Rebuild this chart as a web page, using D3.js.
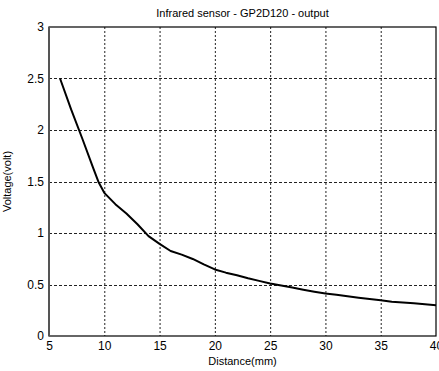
<!DOCTYPE html>
<html>
<head>
<meta charset="utf-8">
<script src="https://cdn.jsdelivr.net/npm/d3@7"></script>
<style>
  body { margin: 0; background: #fff; }
  svg text { font-family: "Liberation Sans", Arial, sans-serif; fill: #000; }
</style>
</head>
<body>
<div id="chart"></div>
<script>
const title = "Infrared sensor - GP2D120 - output";
const xLabel = "Distance(mm)";
const yLabel = "Voltage(volt)";

const distance = [6, 7, 8, 9, 9.5, 10, 11, 12, 13, 14, 15, 16, 17, 18, 19, 20, 21, 22, 23,
  24, 25, 26, 27, 28, 29, 30, 31, 32, 33, 34, 35, 36, 37, 38, 39, 40];
const voltage = [2.50, 2.2, 1.92, 1.63, 1.49, 1.39, 1.28, 1.19, 1.085, 0.97, 0.895, 0.825, 0.79,
  0.748, 0.695, 0.646, 0.615, 0.59, 0.56, 0.535, 0.51, 0.49, 0.47, 0.45, 0.43, 0.412,
  0.40, 0.385, 0.372, 0.36, 0.347, 0.332, 0.325, 0.317, 0.308, 0.298];

const xTicks = [5, 10, 15, 20, 25, 30, 35, 40];
const yTicks = [0, 0.5, 1, 1.5, 2, 2.5, 3];

const width = 439, height = 371;
const margin = { top: 27, right: 3, bottom: 35, left: 49 };

const svg = d3.select("#chart").append("svg")
  .attr("width", width).attr("height", height);

const x = d3.scaleLinear().domain([5, 40]).range([margin.left, width - margin.right]);
const y = d3.scaleLinear().domain([0, 3]).range([height - margin.bottom, margin.top]);

// dotted grid
const grid = svg.append("g").attr("class", "grid");
grid.selectAll(".gx")
  .data(xTicks.slice(1, -1))
  .join("line")
  .attr("x1", d => x(d) + 0.5).attr("x2", d => x(d) + 0.5)
  .attr("y1", y(3)).attr("y2", y(0))
  .attr("stroke", "#222").attr("stroke-width", 1)
  .attr("stroke-dasharray", "2,2");
grid.selectAll(".gy")
  .data(yTicks.slice(1, -1))
  .join("line")
  .attr("y1", d => Math.round(y(d)) + 0.5).attr("y2", d => Math.round(y(d)) + 0.5)
  .attr("x1", x(5)).attr("x2", x(40))
  .attr("stroke", "#222").attr("stroke-width", 1)
  .attr("stroke-dasharray", "3,2");

// axes
const xAxis = svg.append("g")
  .attr("transform", `translate(0,${y(0)})`)
  .call(d3.axisBottom(x).tickValues(xTicks).tickSize(0).tickPadding(5).tickFormat(d3.format("d")));
const yAxis = svg.append("g")
  .attr("transform", `translate(${x(5)},0)`)
  .call(d3.axisLeft(y).tickValues(yTicks).tickSize(0).tickPadding(5).tickFormat(d => d));
for (const g of [xAxis, yAxis]) {
  g.select(".domain").remove();
  g.selectAll("text").style("font-size", "12px").style("font-family", "'Liberation Sans', Arial, sans-serif");
}

// box
svg.append("rect")
  .attr("x", x(5)).attr("y", y(3))
  .attr("width", x(40) - x(5)).attr("height", y(0) - y(3))
  .attr("fill", "none").attr("stroke", "#000").attr("stroke-width", 1.2);
svg.append("line")
  .attr("x1", x(5)).attr("x2", x(5))
  .attr("y1", y(3)).attr("y2", y(0))
  .attr("stroke", "#555").attr("stroke-width", 2);

// curve
const line = d3.line()
  .x((d, i) => x(distance[i]))
  .y(d => y(d));
svg.append("path")
  .datum(voltage)
  .attr("d", line)
  .attr("fill", "none")
  .attr("stroke", "#000")
  .attr("stroke-width", 2)
  .attr("stroke-linejoin", "round");

// labels
svg.append("text")
  .attr("x", (x(5) + x(40)) / 2).attr("y", 17)
  .attr("text-anchor", "middle").style("font-size", "11px")
  .text(title);
svg.append("text")
  .attr("x", (x(5) + x(40)) / 2).attr("y", 365)
  .attr("text-anchor", "middle").style("font-size", "11px")
  .text(xLabel);
svg.append("text")
  .attr("transform", `translate(11,${(y(0) + y(3)) / 2}) rotate(-90)`)
  .attr("text-anchor", "middle").style("font-size", "11px")
  .text(yLabel);
</script>
</body>
</html>
